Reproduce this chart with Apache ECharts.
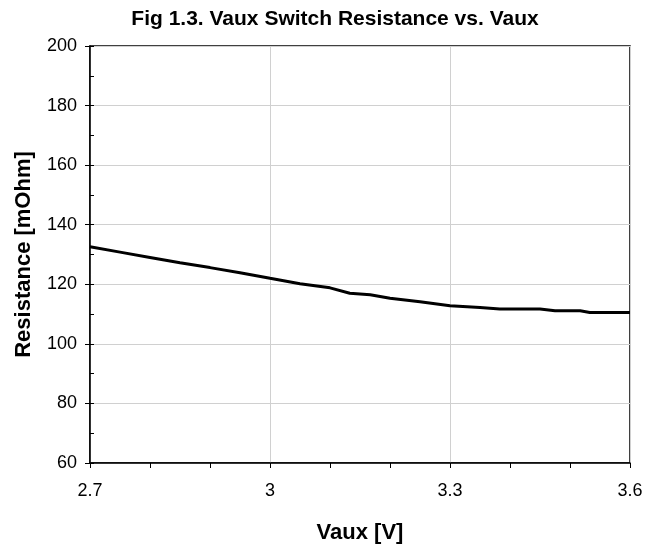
<!DOCTYPE html>
<html>
<head>
<meta charset="utf-8">
<title>Vaux Switch Resistance vs. Vaux</title>
<script src="https://cdn.jsdelivr.net/npm/echarts@6/dist/echarts.min.js"></script>
<style>
  html, body { margin: 0; padding: 0; background: #fff; }
  #chart { width: 662px; height: 545px; }
</style>
</head>
<body>
<div id="chart"></div>
<script>
// Vaux [V]
var vaux = [2.7, 2.75, 2.8, 2.85, 2.9, 2.95, 3.0, 3.05, 3.1, 3.133, 3.167, 3.2, 3.25, 3.3,
  3.35, 3.383, 3.45, 3.475, 3.517, 3.533, 3.6];
// Resistance [mOhm]
var resistance = [132.6, 130.8, 129.0, 127.2, 125.6, 123.9, 122.0, 120.2, 118.8, 117.0, 116.5,
  115.3, 114.1, 112.8, 112.2, 111.7, 111.7, 111.1, 111.1, 110.5, 110.5];

var font = "Liberation Sans, Arial, sans-serif";

var chart = echarts.init(document.getElementById("chart"));
chart.setOption({
  animation: false,
  title: {
    text: "Fig 1.3. Vaux Switch Resistance vs. Vaux",
    left: 330,
    top: 4,
    textAlign: "center",
    textStyle: { fontFamily: font, fontSize: 21, fontWeight: "bold", color: "#000" },
  },
  grid: {
    left: 90, right: 32, top: 46, bottom: 82,
    outerBoundsMode: "none",
    show: true, borderColor: "#000", borderWidth: 1.5, backgroundColor: "#fff",
  },
  xAxis: {
    type: "value",
    min: 2.7, max: 3.6, interval: 0.3,
    name: "Vaux [V]",
    nameLocation: "middle",
    nameGap: 59,
    nameTextStyle: { fontFamily: font, fontSize: 22, fontWeight: "bold", color: "#000" },
    axisLine: { lineStyle: { color: "#000", width: 1.5 } },
    axisTick: { show: true, length: 5, lineStyle: { color: "#000" } },
    minorTick: { show: true, splitNumber: 3, length: 5, lineStyle: { color: "#000" } },
    axisLabel: {
      margin: 19, fontFamily: font, fontSize: 18, color: "#000",
      formatter: function (v) { return String(Math.round(v * 10) / 10); },
    },
    splitLine: { show: true, lineStyle: { color: "#d0d0d0", width: 1 } },
  },
  yAxis: [
    {
      type: "value",
      min: 60, max: 200, interval: 20,
      name: "Resistance [mOhm]",
      nameLocation: "middle",
      nameGap: 55,
      nameTextStyle: { fontFamily: font, fontSize: 22, fontWeight: "bold", color: "#000" },
      axisLine: { show: true, lineStyle: { color: "#000", width: 1.5 } },
      axisTick: { show: true, length: 5, lineStyle: { color: "#000" } },
      axisLabel: { margin: 13, fontFamily: font, fontSize: 18, color: "#000" },
      splitLine: { show: true, lineStyle: { color: "#d0d0d0", width: 1 } },
    },
    {
      // inside minor ticks every 10
      type: "value",
      position: "left",
      min: 60, max: 200, interval: 10,
      axisLine: { show: false },
      axisTick: { show: true, inside: true, length: 4, lineStyle: { color: "#000" } },
      axisLabel: { show: false },
      splitLine: { show: false },
    },
  ],
  series: [
    {
      type: "line",
      yAxisIndex: 0,
      data: vaux.map(function (x, i) { return [x, resistance[i]]; }),
      showSymbol: false,
      lineStyle: { color: "#000", width: 3 },
    },
  ],
});
</script>
</body>
</html>
